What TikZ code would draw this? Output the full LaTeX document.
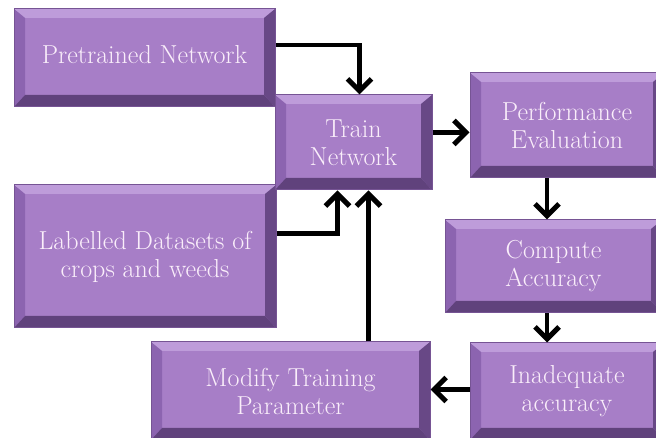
\documentclass[tikz,border=0pt]{standalone}
\definecolor{boxfill}{RGB}{167,126,199}
\definecolor{bevtop}{RGB}{190,156,218}
\definecolor{bevleft}{RGB}{140,100,176}
\definecolor{bevright}{RGB}{104,72,134}
\definecolor{bevbottom}{RGB}{96,66,124}
\definecolor{edge}{RGB}{118,84,148}
\definecolor{boxtext}{RGB}{250,238,250}
\definecolor{arrowink}{RGB}{0,0,0}
\usepackage{tikz}
\usetikzlibrary{arrows.meta}
\usetikzlibrary{positioning}
\newcommand*{\boxfont}{\fontsize{26}{28}\selectfont}
% bevelled edges of a box
\newcommand*{\bevel}{%
    \coordinate (nw) at (path picture bounding box.north west);
    \coordinate (ne) at (path picture bounding box.north east);
    \coordinate (sw) at (path picture bounding box.south west);
    \coordinate (se) at (path picture bounding box.south east);
    \fill [bevtop] (nw) -- (ne) -- ([shift={(-11pt,-9pt)}]ne) -- ([shift={(11pt,-9pt)}]nw) -- cycle;
    \fill [bevleft] (nw) -- ([shift={(11pt,-9pt)}]nw) -- ([shift={(11pt,12pt)}]sw) -- (sw) -- cycle;
    \fill [bevright] (ne) -- ([shift={(-11pt,-9pt)}]ne) -- ([shift={(-11pt,12pt)}]se) -- (se) -- cycle;
    \fill [bevbottom] (sw) -- ([shift={(11pt,12pt)}]sw) -- ([shift={(-11pt,12pt)}]se) -- (se) -- cycle;
}
\tikzstyle{base}=[x=1pt, y=1pt]
\tikzstyle{box}=[draw=edge, line width=1pt, fill=boxfill, text=boxtext, align=center,
    inner sep=0pt, font=\boxfont, path picture={\bevel}]
\tikzstyle{flow}=[arrowink, line width=4.5pt, -{Straight Barb[length=12pt, width=24pt, line width=5pt]}]

\begin{document}
\begin{tikzpicture}[base]
    \useasboundingbox (0,0) rectangle (656,438);
        \node [box, minimum width=261pt, minimum height=98pt] (pre) at (144.5,380) {\raisebox{8pt}{Pretrained Network}};
        \node [box, minimum width=262pt, minimum height=143pt] (lab) at (145,181.5) {Labelled Datasets of\\crops and weeds};
        \node [box, minimum width=157pt, minimum height=95pt] (train) at (353.5,295.5) {Train\\Network};
        \node [box, minimum width=194pt, minimum height=105pt] (perf) at (567,312.5) {Performance\\Evaluation};
        \node [box, minimum width=217pt, minimum height=93pt] (comp) at (553.5,171.5) {Compute\\Accuracy};
        \node [box, minimum width=194pt, minimum height=97pt] (inad) at (567,46.5) {Inadequate\\accuracy};
        \node [box, minimum width=279pt, minimum height=98pt] (mod) at (290.5,47) {Modify Training\\Parameter};
        \draw [flow] ([yshift=13pt]pre.east) -| ([xshift=6pt]train.north);
        \draw [flow] ([yshift=23pt]lab.east) -| ([xshift=-16pt]train.south);
        \draw [flow] ([xshift=78pt]mod.north) -- ([xshift=78pt]mod.north |- train.south);
        \draw [flow] ([yshift=10pt]train.east) -- ([yshift=10pt]train.east -| perf.west);
        \draw [flow] ([xshift=-20pt]perf.south) -- ([xshift=-20pt]perf.south |- comp.north);
        \draw [flow] ([xshift=-6.5pt]comp.south) -- ([xshift=-6.5pt]comp.south |- inad.north);
        \draw [flow] ([yshift=2pt]inad.west) -- ([yshift=2pt]inad.west -| mod.east);
\end{tikzpicture}
\end{document}
